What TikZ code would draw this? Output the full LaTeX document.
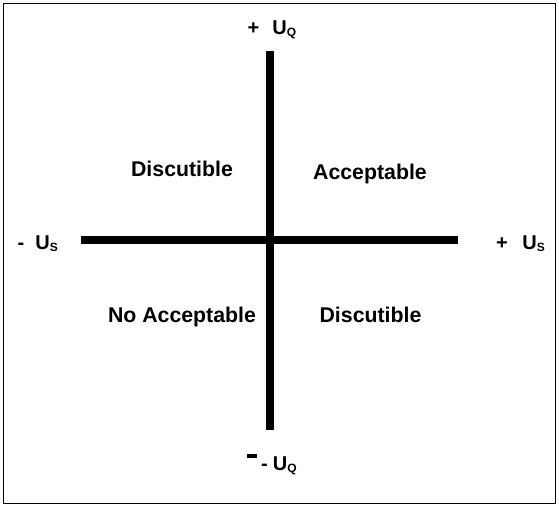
\documentclass[tikz,border=0pt]{standalone}
\usepackage{fontspec}
\setmainfont{Liberation Sans}
\begin{document}
\begin{tikzpicture}[x=1bp,y=1bp,
  quad/.style={anchor=base,inner sep=0pt,font=\fontsize{21.3bp}{25bp}\selectfont\bfseries},
  axlab/.style={anchor=base west,inner sep=0pt,font=\fontsize{20bp}{24bp}\selectfont\bfseries},
  axis/.style={line width=8.5bp}]
\useasboundingbox (0,0) rectangle (559,507);
\draw[line width=1.6bp] (3.5,3.5) rectangle (555.5,503.5);
% axes
\coordinate (hl) at (81,267);
\coordinate (hr) at (458,267);
\coordinate (vt) at (270,456);
\coordinate (vb) at (270,77);
\draw[axis] (hl) -- (hr);
\draw[axis] (vt) -- (vb);
% quadrant labels
\node[quad] (tl) at (182,330) {Discutible};
\node[quad] (tr) at (370,327) {Acceptable};
\node[quad] (bl) at (182,184) {No Acceptable};
\node[quad] (br) at (370.5,184) {Discutible};
% axis labels
\node[axlab] (uqp) at (247.5,472) {+\hspace{13bp}U\raisebox{-1.5bp}{\fontsize{12bp}{12bp}\selectfont Q}};
\node[axlab] (usp) at (496,257) {+\hspace{14.5bp}U\raisebox{-1.5bp}{\fontsize{12bp}{12bp}\selectfont S}};
\node[axlab] (usm) at (17.5,257) {-\hspace{11bp}U\raisebox{-1.5bp}{\fontsize{12bp}{12bp}\selectfont S}};
\node[axlab] (uqm) at (261,36) {-\hspace{5bp}U\raisebox{-1.5bp}{\fontsize{12bp}{12bp}\selectfont Q}};
\fill (246.7,49) rectangle (256.7,52.5);
\end{tikzpicture}
\end{document}
